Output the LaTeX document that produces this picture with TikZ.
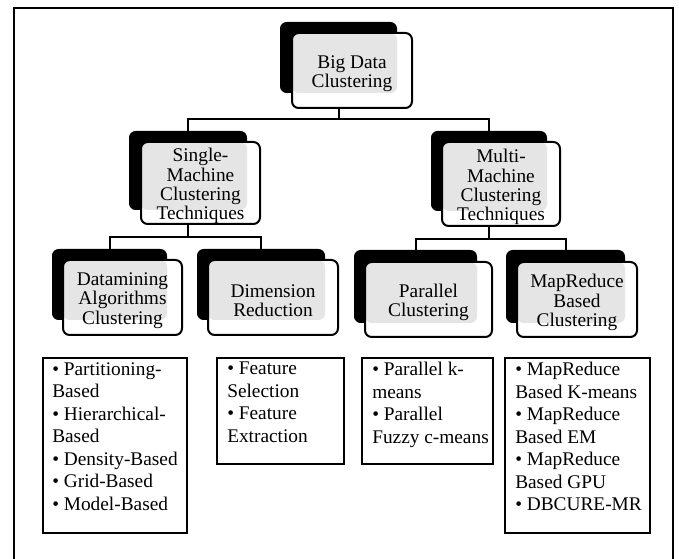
\documentclass[tikz,border=0pt]{standalone}
\usepackage{fontspec}
\setmainfont{Liberation Serif}
\usetikzlibrary{calc}
\tikzset{
  shadowfill/.style={fill=black, rounded corners=5pt},
  frontline/.style={draw=black, line width=1.5pt, rounded corners=5pt},
  titletext/.style={align=center, font=\fontsize{14.5}{14.4}\selectfont, inner sep=0pt},
  listbox/.style={draw=black, line width=1.5pt},
  listtext/.style={align=left, anchor=north west, inner sep=0pt, font=\fontsize{14.5}{16.9}\selectfont},
  conn/.style={draw=black, line width=1.5pt},
}
% name, front NW, shadow NW, shadow SE, front SE, text
\newcommand\mktitle[6]{%
  \coordinate (#1fa) at (#2);
  \coordinate (#1sa) at (#3);
  \coordinate (#1sb) at (#4);
  \coordinate (#1fb) at (#5);
  \coordinate (#1sc) at ($(#1sa)!0.5!(#1sb)$);
  \fill[shadowfill] (#1sa) rectangle (#1sb);
  \fill[white, rounded corners=5pt] (#1fa) rectangle (#1fb);
  \begin{scope}
    \clip[rounded corners=5pt] (#1fa) rectangle (#1fb);
    \fill[gray!20, rounded corners=5pt] (#1fa) rectangle (#1sb);
  \end{scope}
  \draw[frontline] (#1fa) rectangle (#1fb);
  \node[titletext] (#1) at ($(#1fa)!0.5!(#1fb)+(0,3)$) {#6};
}
\begin{document}
\begin{tikzpicture}[x=0.75pt, y=-0.75pt]
\useasboundingbox (0,0) rectangle (679,559);
\fill[white] (0,0) rectangle (679,559);
% outer frame
\coordinate (fa) at (14,559);
\coordinate (fb) at (14,8);
\coordinate (fc) at (673,8);
\coordinate (fd) at (673,559);
\draw[line width=1.6pt] (fa) -- (fb) -- (fc) -- (fd);

\mktitle{big}{292,33}{280,22}{397,93}{412,108}{Big Data\\Clustering}
\mktitle{single}{141,142}{129,131}{247,210}{260,224}{Single-\\Machine\\Clustering\\Techniques}
\mktitle{multi}{442,142}{431,131}{547,211}{560,226}{Multi-\\Machine\\Clustering\\Techniques}
\mktitle{dm}{63,260}{52,249}{167,320}{182,335}{Datamining\\Algorithms\\Clustering}
\mktitle{dim}{208,260}{197,249}{325,320}{338,335}{Dimension\\Reduction}
\mktitle{par}{365,262}{354,250}{477,323}{492,337}{Parallel\\Clustering}
\mktitle{mr}{517,262}{506,250}{625,323}{637,337}{MapReduce\\Based\\Clustering}

% connectors
\draw[conn] (bigsc |- bigfb) -- ++(0,11) coordinate (j1);
\draw[conn] (singlesc |- singlesa) |- (j1) -| (multisc |- multisa);
\draw[conn] (singlesc |- singlefb) -- ++(0,13) coordinate (j2);
\draw[conn] (dmsc |- dmsa) |- (j2) -| (dimsc |- dimsa);
\draw[conn] (multisc |- multifb) -- ++(0,13) coordinate (j3);
\draw[conn] (parsc |- parsa) |- (j3) -| (mrsc |- mrsa);

% list boxes
\coordinate (l1a) at (43,358); \coordinate (l1b) at (187,533);
\coordinate (l2a) at (217,358); \coordinate (l2b) at (344,464);
\coordinate (l3a) at (362,358); \coordinate (l3b) at (493,464);
\coordinate (l4a) at (505,358); \coordinate (l4b) at (650,533);
\draw[listbox] (l1a) rectangle (l1b);
\draw[listbox] (l2a) rectangle (l2b);
\draw[listbox] (l3a) rectangle (l3b);
\draw[listbox] (l4a) rectangle (l4b);
\node[listtext] (t1) at ([shift={(9,4)}]l1a) {• Partitioning-\\Based\\• Hierarchical-\\Based\\• Density-Based\\• Grid-Based\\• Model-Based};
\node[listtext] (t2) at ([shift={(10,4)}]l2a) {• Feature\\Selection\\• Feature\\Extraction};
\node[listtext] (t3) at ([shift={(10,4)}]l3a) {• Parallel k-\\means\\• Parallel\\Fuzzy c-means};
\node[listtext] (t4) at ([shift={(10,4)}]l4a) {• MapReduce\\Based K-means\\• MapReduce\\Based EM\\• MapReduce\\Based GPU\\• DBCURE-MR};
\end{tikzpicture}
\end{document}
